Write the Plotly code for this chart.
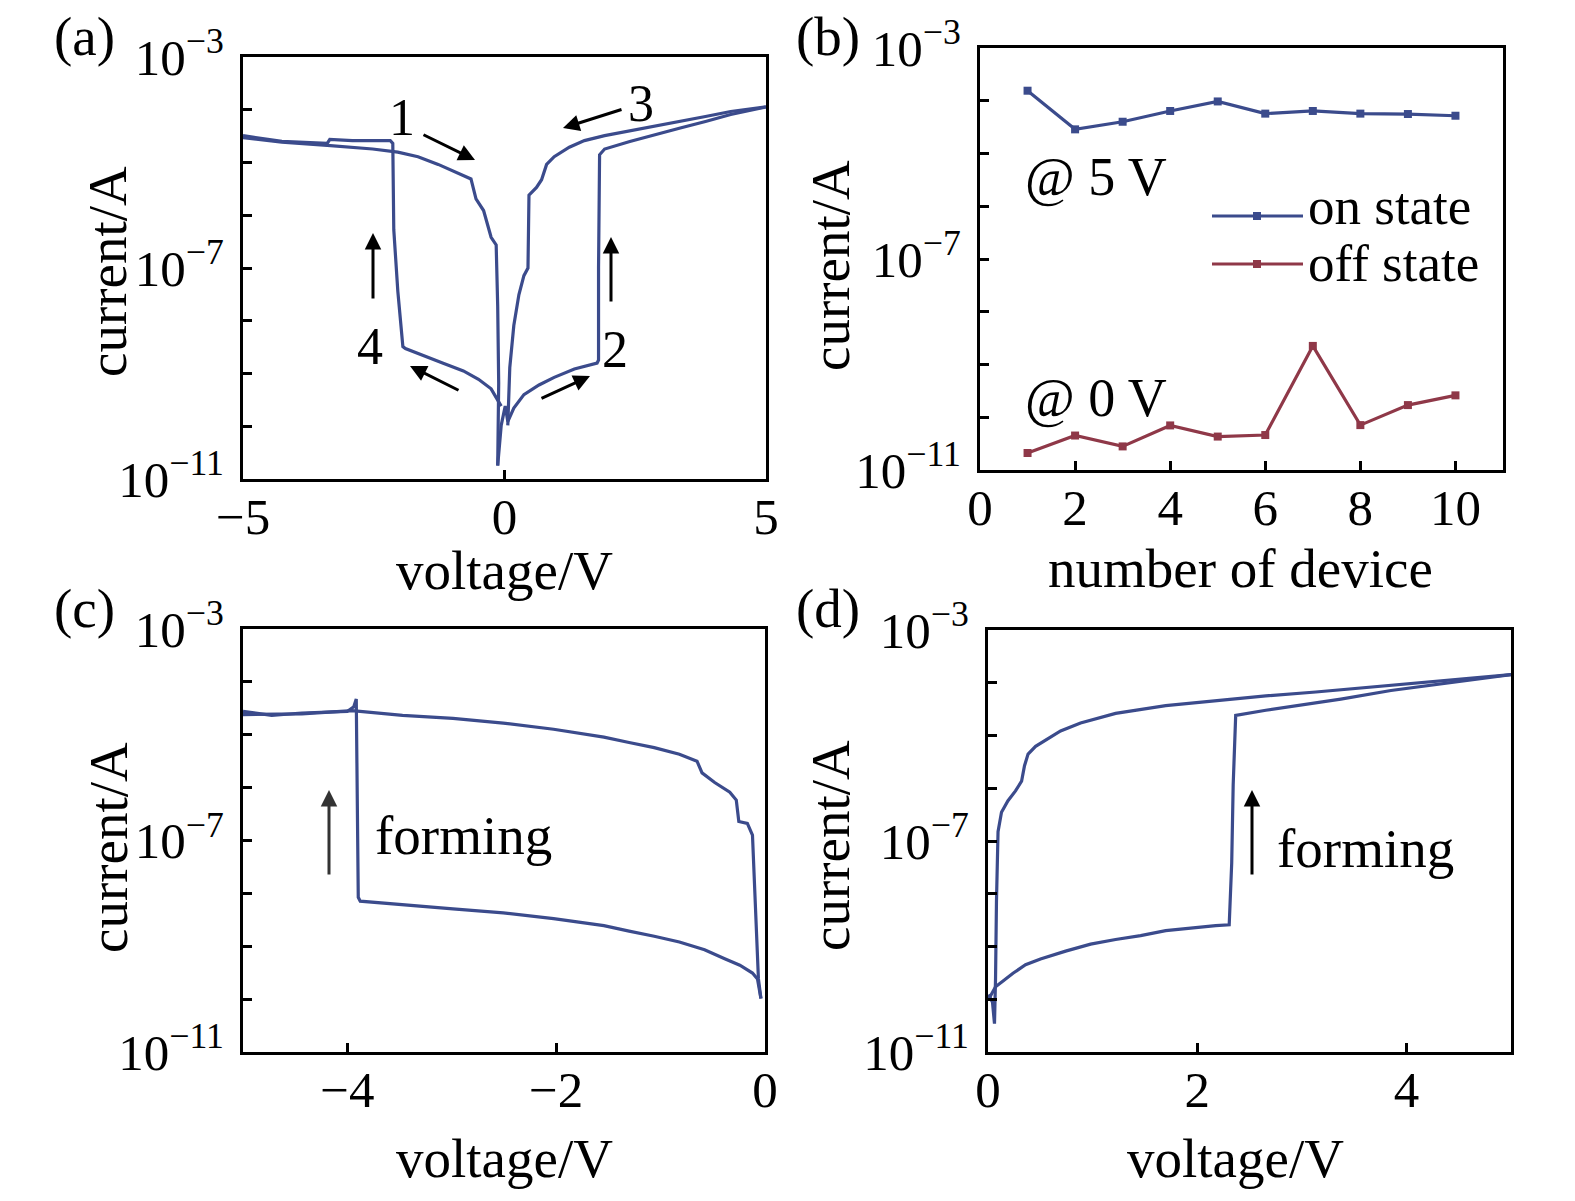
import plotly.graph_objects as go

W, H = 1575, 1201
FONT = "Liberation Serif"
BLUE = "#3B4B8C"
RED = "#8F3848"

# ---------------- data: panel (a) bipolar I-V loop ----------------
a_neg_out_v = [-0.063, -0.256, -0.497, -0.786, -1.172, -1.557, -1.895, -1.943, -2.040, -2.117,
               -2.136, -2.184, -2.907, -3.341, -3.390, -4.257, -5.0]
a_neg_out_i = [2.41e-10, 5.12e-10, 7.78e-10, 1.12e-9, 1.57e-9, 2.20e-9, 2.97e-9, 3.23e-9, 3.66e-8, 5.33e-7,
               2.31e-5, 2.60e-5, 2.60e-5, 2.73e-5, 2.31e-5, 2.51e-5, 3.23e-5]
a_neg_ret_v = [-5.0, -4.257, -3.390, -2.522, -2.040, -1.654, -1.268, -0.979, -0.641, -0.545,
               -0.400, -0.256, -0.159, -0.130, -0.111, -0.130]
a_neg_ret_i = [2.97e-5, 2.43e-5, 2.12e-5, 1.80e-5, 1.57e-5, 1.29e-5, 9.20e-6, 6.81e-6, 4.87e-6, 2.04e-6,
               1.23e-6, 3.82e-7, 2.73e-7, 1.87e-8, 6.58e-10, 1.80e-11]
a_pos_out_v = [-0.130, -0.063, 0.014, 0.063, 0.178, 0.371, 0.660, 0.950, 1.336, 1.770, 1.798, 1.798,
               1.818, 1.914, 2.396, 2.878, 3.361, 3.843, 4.325, 5.0]
a_pos_out_i = [1.80e-11, 1.04e-10, 2.41e-10, 1.23e-10, 2.21e-10, 3.98e-10, 6.05e-10, 8.45e-10, 1.22e-9,
               1.57e-9, 1.80e-9, 1.00e-7, 1.40e-5, 1.80e-5, 2.51e-5, 3.40e-5, 4.52e-5, 6.00e-5, 8.11e-5, 1.13e-4]
a_pos_ret_v = [5.0, 4.325, 3.843, 3.361, 2.878, 2.396, 1.914, 1.528, 1.239, 0.950, 0.805, 0.709,
               0.612, 0.468, 0.449, 0.371, 0.275, 0.178, 0.101, 0.063]
a_pos_ret_i = [1.13e-4, 9.27e-5, 7.46e-5, 6.00e-5, 4.91e-5, 4.02e-5, 3.23e-5, 2.60e-5, 1.95e-5, 1.29e-5,
               9.20e-6, 4.71e-6, 3.37e-6, 2.41e-6, 1.00e-7, 7.16e-8, 3.10e-8, 8.11e-9, 1.29e-9, 1.04e-10]

# ---------------- data: panel (b) device-to-device ----------------
b_device = [1, 2, 3, 4, 5, 6, 7, 8, 9, 10]
b_on_state = [1.55e-4, 2.87e-5, 4.0e-5, 6.4e-5, 9.7e-5, 5.7e-5, 6.4e-5, 5.7e-5, 5.6e-5, 5.2e-5]
b_off_state = [2.1e-11, 4.5e-11, 2.8e-11, 7.0e-11, 4.3e-11, 4.6e-11, 2.25e-9, 7.1e-11, 1.7e-10, 2.6e-10]

# ---------------- data: panel (c) negative forming ----------------
c_out_v = [-0.039, -0.072, -0.120, -0.241, -0.386, -0.579, -0.820, -1.061, -1.302, -1.543, -2.025,
           -2.507, -2.989, -3.472, -3.877, -3.896, -3.906, -3.915, -3.939, -4.002, -4.436, -4.725, -5.0]
c_out_i = [1.03e-10, 2.41e-10, 3.11e-10, 4.37e-10, 5.82e-10, 8.59e-10, 1.20e-9, 1.55e-9, 1.93e-9, 2.45e-9,
           3.32e-9, 4.29e-9, 5.08e-9, 6.02e-9, 7.13e-9, 8.44e-9, 1.15e-6, 4.74e-5, 3.38e-5, 2.76e-5,
           2.58e-5, 2.33e-5, 2.76e-5]
c_ret_v = [-5.0, -4.436, -3.954, -3.472, -2.989, -2.507, -2.025, -1.543, -1.302, -1.061, -0.820, -0.651,
           -0.603, -0.482, -0.337, -0.275, -0.251, -0.169, -0.120, -0.096, -0.063, -0.039]
c_ret_i = [2.41e-5, 2.49e-5, 2.86e-5, 2.33e-5, 2.04e-5, 1.66e-5, 1.27e-5, 9.04e-6, 7.13e-6, 5.72e-6,
           4.29e-6, 3.16e-6, 1.90e-6, 1.25e-6, 8.17e-7, 5.82e-7, 2.29e-7, 2.11e-7, 1.27e-7, 7.13e-9,
           2.41e-10, 1.03e-10]

# ---------------- data: panel (d) positive forming ----------------
d_out_v = [0.010, 0.072, 0.144, 0.239, 0.359, 0.502, 0.742, 0.981, 1.220, 1.459, 1.699, 1.938, 2.177,
           2.306, 2.330, 2.344, 2.368, 2.656, 2.895, 3.373, 3.852, 4.330, 4.809, 5.0]
d_out_i = [1.03e-10, 1.72e-10, 2.22e-10, 3.11e-10, 4.51e-10, 5.82e-10, 8.17e-10, 1.11e-9, 1.36e-9,
           1.61e-9, 2.00e-9, 2.25e-9, 2.49e-9, 2.58e-9, 3.87e-8, 1.15e-6, 2.41e-5, 3.01e-5, 3.56e-5,
           4.91e-5, 7.13e-5, 9.66e-5, 1.27e-4, 1.43e-4]
d_ret_v = [5.0, 4.569, 4.091, 3.612, 3.134, 2.656, 2.177, 1.699, 1.220, 0.885, 0.694, 0.550, 0.455,
           0.383, 0.349, 0.321, 0.263, 0.191, 0.129, 0.096, 0.081, 0.072, 0.062, 0.043, 0.005]
d_ret_i = [1.43e-4, 1.20e-4, 9.66e-5, 7.89e-5, 6.67e-5, 5.62e-5, 4.59e-5, 3.68e-5, 2.62e-5, 1.72e-5,
           1.22e-5, 8.02e-6, 6.22e-6, 4.44e-6, 2.67e-6, 1.36e-6, 8.89e-7, 5.82e-7, 3.50e-7, 1.50e-7,
           7.13e-9, 2.41e-10, 3.44e-11, 8.73e-11, 1.23e-10]

# ---------------- tick labels ----------------
log_tickvals = [1e-11, 1e-7, 1e-3]
log_ticktext = ["10<sup>−11</sup>", "10<sup>−7</sup>", "10<sup>−3</sup>"]
log_minorvals = [1e-10, 1e-9, 1e-8, 1e-6, 1e-5, 1e-4]
a_xtickvals, a_xticktext = [-5, 0, 5], ["−5", "0", "5"]
b_xtickvals, b_xticktext = [0, 2, 4, 6, 8, 10], ["0", "2", "4", "6", "8", "10"]
c_xtickvals, c_xticktext = [-4, -2, 0], ["−4", "−2", "0"]
d_xtickvals, d_xticktext = [0, 2, 4], ["0", "2", "4"]


def px(x):
    return x / W


def py(y):
    return 1 - y / H


fig = go.Figure()
line_style = dict(color=BLUE, width=3.2)
for xs, ys in [(a_neg_out_v, a_neg_out_i), (a_neg_ret_v, a_neg_ret_i),
               (a_pos_out_v, a_pos_out_i), (a_pos_ret_v, a_pos_ret_i)]:
    fig.add_trace(go.Scatter(x=xs, y=ys, mode="lines", line=line_style, xaxis="x", yaxis="y",
                             showlegend=False))
fig.add_trace(go.Scatter(x=b_device, y=b_on_state, mode="lines+markers", name="on state",
                         line=dict(color=BLUE, width=3.2), marker=dict(symbol="square", size=8, color=BLUE),
                         xaxis="x2", yaxis="y2", showlegend=False))
fig.add_trace(go.Scatter(x=b_device, y=b_off_state, mode="lines+markers", name="off state",
                         line=dict(color=RED, width=3.2), marker=dict(symbol="square", size=8, color=RED),
                         xaxis="x2", yaxis="y2", showlegend=False))
for xs, ys in [(c_out_v, c_out_i), (c_ret_v, c_ret_i)]:
    fig.add_trace(go.Scatter(x=xs, y=ys, mode="lines", line=line_style, xaxis="x3", yaxis="y3",
                             showlegend=False))
for xs, ys in [(d_out_v, d_out_i), (d_ret_v, d_ret_i)]:
    fig.add_trace(go.Scatter(x=xs, y=ys, mode="lines", line=line_style, xaxis="x4", yaxis="y4",
                             showlegend=False))

tickfont = dict(family=FONT, size=51, color="black")


def xax(dom, anchor, rng, tv, tt):
    return dict(domain=dom, anchor=anchor, range=rng, tickvals=tv, ticktext=tt, ticks="inside",
                ticklen=9, tickwidth=3, tickcolor="black", showline=True, linewidth=3,
                linecolor="black", mirror=True, showgrid=False, zeroline=False, tickfont=tickfont,
                ticklabelstandoff=-9, automargin=False)


def yax(dom, anchor):
    return dict(domain=dom, anchor=anchor, type="log", range=[-11, -3], tickvals=log_tickvals,
                ticktext=log_ticktext, ticks="inside", ticklen=9, tickwidth=3, tickcolor="black",
                minor=dict(tickvals=log_minorvals, ticks="inside", ticklen=9, tickwidth=3,
                           tickcolor="black", showgrid=False),
                showline=True, linewidth=3, linecolor="black", mirror=True, showgrid=False,
                zeroline=False, tickfont=tickfont, ticklabelstandoff=6, automargin=False)


ann = []


def text(x, y, s, size=54, xanchor="center", angle=0):
    ann.append(dict(x=px(x), y=py(y), xref="paper", yref="paper", text=s, showarrow=False,
                    xanchor=xanchor, yanchor="middle", textangle=angle,
                    font=dict(family=FONT, size=size, color="black")))


def arrow(hx, hy, tx, ty, color="black"):
    ann.append(dict(x=px(hx), y=py(hy), xref="paper", yref="paper", ax=tx - hx, ay=ty - hy,
                    axref="pixel", ayref="pixel", text="", showarrow=True, arrowhead=2,
                    arrowsize=1.1, arrowwidth=3, arrowcolor=color, standoff=0, startstandoff=0))


# panel labels
for lab, x, y in [("(a)", 84, 36), ("(b)", 828, 36), ("(c)", 84, 608), ("(d)", 828, 608)]:
    text(x, y, lab, size=55)
# axis titles
for x, y in [(108, 272), (830, 266), (108, 848), (830, 846)]:
    text(x, y, "current/A", size=55, angle=-90)
text(504, 570, "voltage/V", size=55)
text(1240, 568, "number of device", size=55)
text(504, 1158, "voltage/V", size=55)
text(1235, 1158, "voltage/V", size=55)
# panel (a) annotations
text(402, 117, "1", size=52)
text(615, 350, "2", size=52)
text(641, 103, "3", size=52)
text(370, 346, "4", size=52)
arrow(475, 160, 422, 134)
arrow(563, 128, 623, 109)
arrow(590, 376, 540, 399)
arrow(410, 366, 460, 391)
arrow(373, 233, 373, 300)
arrow(611, 237, 611, 303)
# panel (b) annotations
text(1096, 177, "@ 5 V", size=54)
text(1096, 398, "@ 0 V", size=54)
text(1306, 206, "on state", size=53, xanchor="left")
text(1306, 263, "off state", size=53, xanchor="left")
# panel (c), (d)
arrow(329, 790, 329, 876, color="#333333")
text(373, 835, "forming", size=55, xanchor="left")
arrow(1252, 790, 1252, 876)
text(1275, 848, "forming", size=55, xanchor="left")

shapes = []
for y, col in [(216, BLUE), (264, RED)]:
    shapes.append(dict(type="line", xref="paper", yref="paper", x0=px(1212), x1=px(1303),
                       y0=py(y), y1=py(y), line=dict(color=col, width=3.2)))
    shapes.append(dict(type="rect", xref="paper", yref="paper", x0=px(1253), x1=px(1261),
                       y0=py(y - 4), y1=py(y + 4), line=dict(color=col, width=0), fillcolor=col))

fig.update_layout(
    width=W, height=H, margin=dict(l=0, r=0, t=0, b=0, autoexpand=False),
    paper_bgcolor="white", plot_bgcolor="white", showlegend=False,
    xaxis=xax([px(243), px(766)], "y", [-5, 5], a_xtickvals, a_xticktext),
    yaxis=yax([py(479), py(57)], "x"),
    xaxis2=xax([px(980), px(1503)], "y2", [0, 11], b_xtickvals, b_xticktext),
    yaxis2=yax([py(470), py(48)], "x2"),
    xaxis3=xax([px(243), px(765)], "y3", [-5, 0], c_xtickvals, c_xticktext),
    yaxis3=yax([py(1052), py(629)], "x3"),
    xaxis4=xax([px(988), px(1511)], "y4", [0, 5], d_xtickvals, d_xticktext),
    yaxis4=yax([py(1052), py(630)], "x4"),
    annotations=ann, shapes=shapes,
)

fig.write_html("out.html", config={"displayModeBar": False},
               post_script="document.body.style.margin='0px';")
